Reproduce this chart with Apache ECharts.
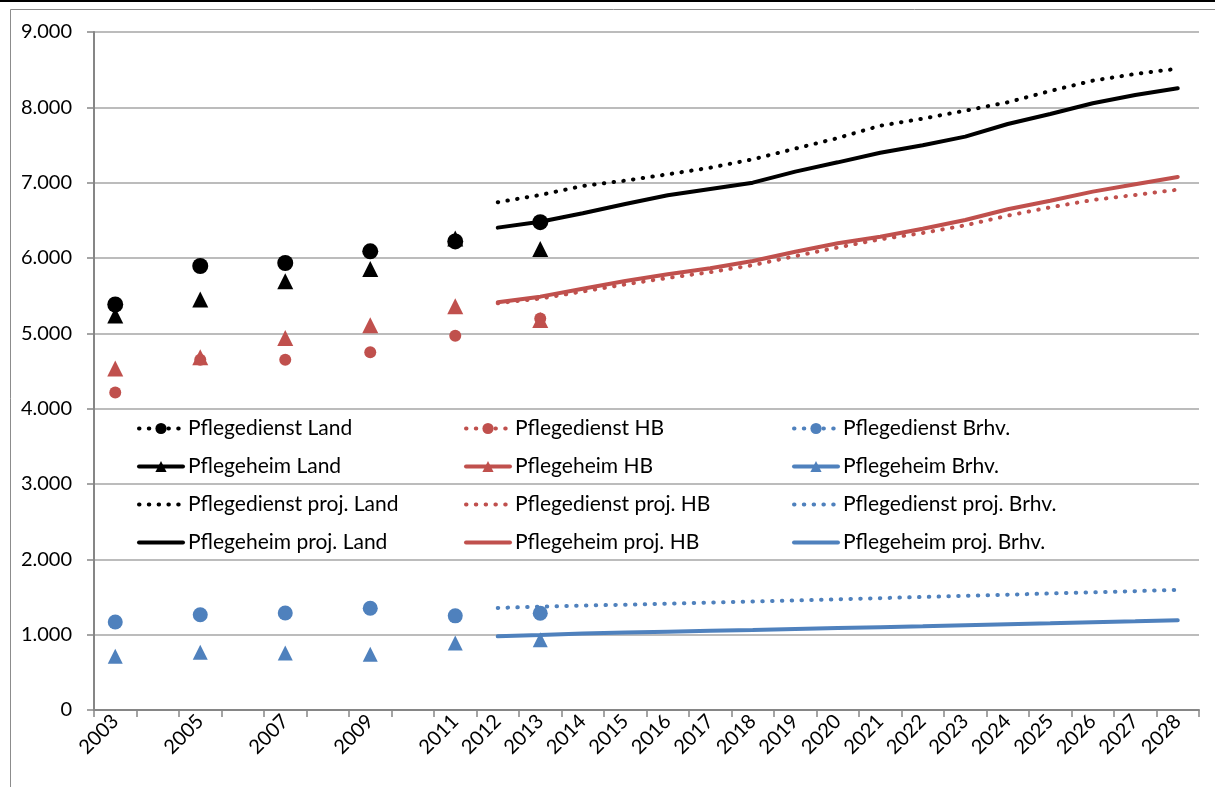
<!DOCTYPE html>
<html lang="de">
<head>
    <meta charset="UTF-8">
    <title>Pflege</title>
    <script src="https://cdn.jsdelivr.net/npm/echarts@6.0.0/dist/echarts.min.js"></script>
    <style>
        *{
            margin: 0;
            padding: 0;
        }
        body{
            background-color: #fff;
            overflow: hidden;
        }
        #main{
            width: 1215px;
            height: 787px;
        }
    </style>
</head>
<body>
<div id="main"></div>
<script>
    // Kategorien (x-Achse)
    var years = [];
    for (var y = 2003; y <= 2028; y++) years.push(String(y));
    var unlabeledYears = ['2004', '2006', '2008', '2010'];

    // Ist-Werte
    var obsYears = ['2003', '2005', '2007', '2009', '2011', '2013'];
    var dienstLand = [5383, 5894, 5934, 6088, 6220, 6476];
    var heimLand   = [5238, 5449, 5692, 5855, 6260, 6119];
    var dienstHB   = [4216, 4648, 4648, 4749, 4969, 5198];
    var heimHB     = [4533, 4683, 4938, 5106, 5361, 5176];
    var dienstBrhv = [1168, 1265, 1288, 1350, 1250, 1285];
    var heimBrhv   = [712, 766, 757, 741, 889, 931];

    // Projektion 2012 - 2028
    var projYears = ['2012', '2013', '2014', '2015', '2016', '2017', '2018', '2019', '2020',
                     '2021', '2022', '2023', '2024', '2025', '2026', '2027', '2028'];
    var dienstProjLand = [6740, 6837, 6956, 7027, 7111, 7199, 7310, 7452, 7592, 7756, 7850, 7956, 8067, 8217, 8354, 8443, 8513];
    var heimProjLand   = [6403, 6482, 6593, 6717, 6832, 6916, 7000, 7146, 7270, 7398, 7496, 7611, 7779, 7912, 8054, 8164, 8253];
    var dienstProjHB   = [5400, 5462, 5555, 5650, 5735, 5812, 5905, 6025, 6140, 6248, 6332, 6434, 6562, 6673, 6770, 6837, 6907];
    var heimProjHB     = [5412, 5487, 5593, 5695, 5783, 5863, 5960, 6084, 6195, 6283, 6389, 6505, 6647, 6761, 6881, 6979, 7076];
    var dienstProjBrhv = [1355, 1372, 1386, 1398, 1412, 1426, 1440, 1455, 1470, 1485, 1500, 1515, 1531, 1547, 1562, 1578, 1595];
    var heimProjBrhv   = [978, 996, 1016, 1030, 1040, 1051, 1062, 1075, 1088, 1100, 1112, 1125, 1138, 1151, 1165, 1178, 1192];

    var yTicks = [0, 1000, 2000, 3000, 4000, 5000, 6000, 7000, 8000, 9000];

    var BLACK = '#000000', RED = '#C0504D', BLUE = '#4F81BD';
    var FONT = 'Lato';
    var DOTS = [0.5, 9.3];

    // Werte auf alle Jahre verteilen, Lücken = null
    function spread(keys, vals) {
        return years.map(function (yr) {
            var i = keys.indexOf(yr);
            return i < 0 ? null : vals[i];
        });
    }

    function fmt(v) {
        return String(v).replace(/\B(?=(\d{3})+(?!\d))/g, '.');
    }

    function projSeries(name, color, vals, dotted) {
        return {
            name: name,
            type: 'line',
            symbol: 'none',
            data: spread(projYears, vals),
            lineStyle: {color: color, width: 4, type: dotted ? DOTS : 'solid', cap: 'round'},
            itemStyle: {color: color},
            emphasis: {disabled: true},
            z: 2
        };
    }

    function obsSeries(name, color, vals, symbol, size, dotted) {
        return {
            name: name,
            type: 'line',
            symbol: symbol,
            symbolSize: size,
            showAllSymbol: true,
            connectNulls: false,
            data: spread(obsYears, vals),
            lineStyle: {color: color, width: 4, type: dotted ? DOTS : 'solid', cap: 'round'},
            itemStyle: {color: color},
            emphasis: {disabled: true},
            z: 3
        };
    }

    // Legendenspalte: zwei Ist-Reihen mit Marker, zwei Projektionen nur Linie
    function legendCol(left, names) {
        return {
            orient: 'vertical',
            left: left,
            top: 413,
            itemWidth: 44,
            itemHeight: 14,
            itemGap: 17,
            lineStyle: {width: 4, cap: 'round'},
            data: [
                names[0],
                names[1],
                {name: names[2], itemStyle: {opacity: 0}},
                {name: names[3], itemStyle: {opacity: 0}}
            ],
            textStyle: {fontFamily: FONT, fontSize: 21, color: '#000', lineHeight: 21},
            selectedMode: false
        };
    }

    var myChart = echarts.init(document.getElementById('main'));

    var option = {
        animation: false,
        backgroundColor: '#fff',
        graphic: [
            {type: 'rect', shape: {x: 0, y: 0, width: 1215, height: 2}, style: {fill: '#000'}},
            {type: 'rect', shape: {x: 10.5, y: 9.5, width: 1400, height: 900}, style: {fill: 'none', stroke: '#8c8c8c', lineWidth: 1}}
        ],
        grid: {left: 94, right: 16, top: 32, bottom: 77},
        legend: [
            legendCol(132, ['Pflegedienst Land', 'Pflegeheim Land', 'Pflegedienst proj. Land', 'Pflegeheim proj. Land']),
            legendCol(459, ['Pflegedienst HB', 'Pflegeheim HB', 'Pflegedienst proj. HB', 'Pflegeheim proj. HB']),
            legendCol(787, ['Pflegedienst Brhv.', 'Pflegeheim Brhv.', 'Pflegedienst proj. Brhv.', 'Pflegeheim proj. Brhv.'])
        ],
        xAxis: {
            type: 'category',
            data: years,
            boundaryGap: true,
            axisLine: {lineStyle: {color: '#868686', width: 2}},
            axisTick: {show: true, interval: 0, length: 7, lineStyle: {color: '#868686', width: 1.5}},
            axisLabel: {
                interval: 0,
                rotate: 45,
                margin: 8,
                fontFamily: FONT,
                fontSize: 20,
                color: '#000',
                formatter: function (v) {
                    return unlabeledYears.indexOf(v) >= 0 ? '' : v;
                }
            },
            splitLine: {show: false}
        },
        yAxis: {
            type: 'value',
            min: yTicks[0],
            max: yTicks[yTicks.length - 1],
            interval: 1000,
            axisLine: {show: true, lineStyle: {color: '#868686', width: 2}},
            axisTick: {show: true, length: 7, lineStyle: {color: '#868686', width: 1.5}},
            axisLabel: {
                margin: 22,
                fontFamily: FONT,
                fontSize: 20,
                color: '#000',
                formatter: fmt
            },
            splitLine: {lineStyle: {color: '#a6a6a6', width: 1.5}}
        },
        series: [
            projSeries('Pflegedienst proj. Land', BLACK, dienstProjLand, true),
            projSeries('Pflegeheim proj. Land', BLACK, heimProjLand, false),
            projSeries('Pflegedienst proj. HB', RED, dienstProjHB, true),
            projSeries('Pflegeheim proj. HB', RED, heimProjHB, false),
            projSeries('Pflegedienst proj. Brhv.', BLUE, dienstProjBrhv, true),
            projSeries('Pflegeheim proj. Brhv.', BLUE, heimProjBrhv, false),
            obsSeries('Pflegeheim Land', BLACK, heimLand, 'triangle', 16, false),
            obsSeries('Pflegeheim HB', RED, heimHB, 'triangle', 16, false),
            obsSeries('Pflegeheim Brhv.', BLUE, heimBrhv, 'triangle', 15, false),
            obsSeries('Pflegedienst Land', BLACK, dienstLand, 'circle', 16, true),
            obsSeries('Pflegedienst HB', RED, dienstHB, 'circle', 12, true),
            obsSeries('Pflegedienst Brhv.', BLUE, dienstBrhv, 'circle', 15, true)
        ]
    };

    myChart.setOption(option);
    window.onresize = myChart.resize;
</script>
</body>
</html>
